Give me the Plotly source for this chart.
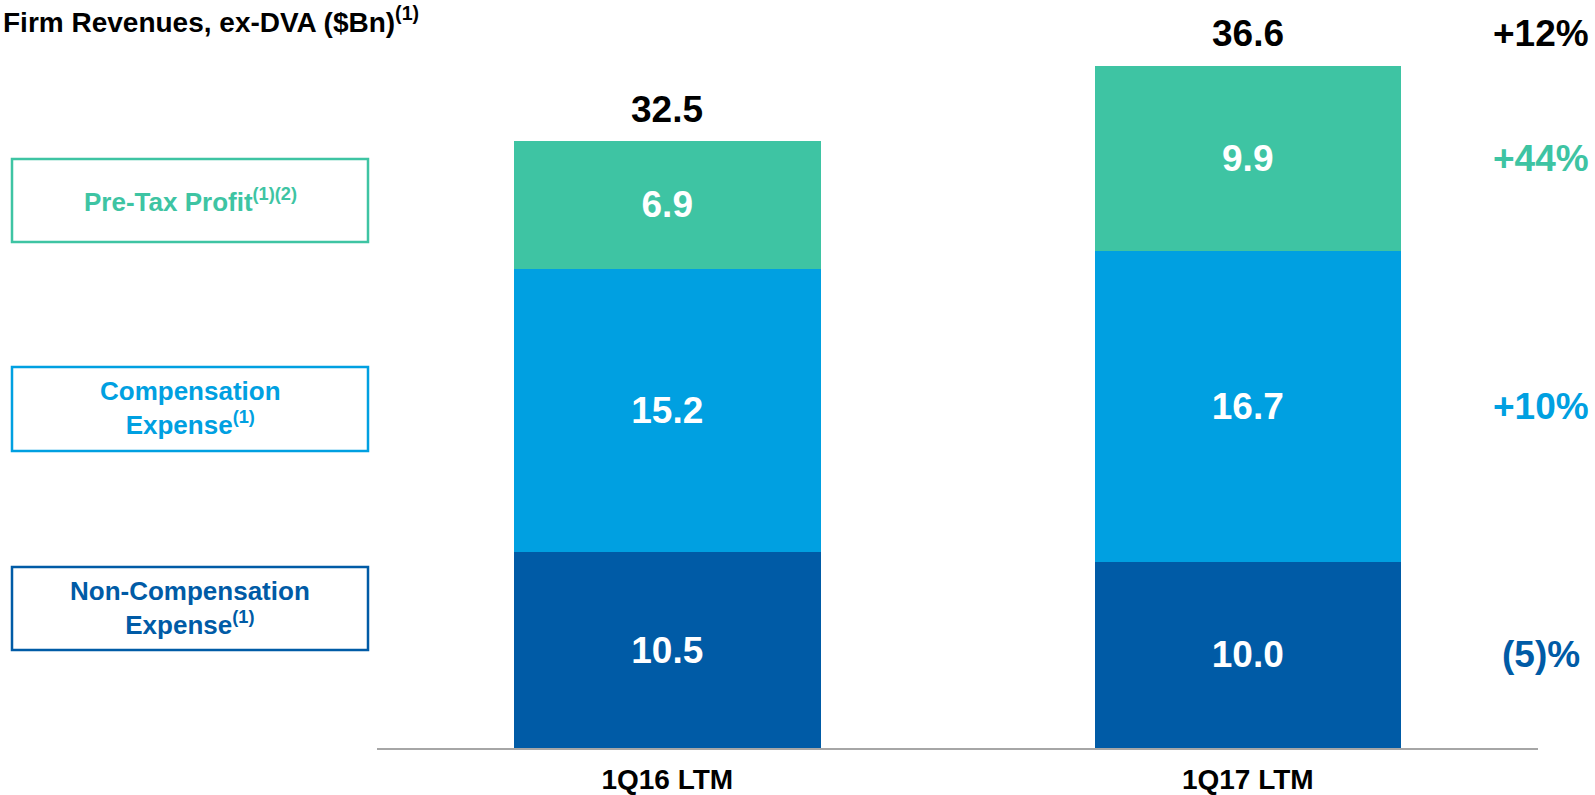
import plotly.graph_objects as go

categories = ["1Q16 LTM", "1Q17 LTM"]
non_comp = [10.5, 10.0]
comp = [15.2, 16.7]
pretax = [6.9, 9.9]
totals = [32.5, 36.6]
changes_total = "+12%"
changes_pretax = "+44%"
changes_comp = "+10%"
changes_noncomp = "(5)%"

C_TEAL = "#3EC4A3"
C_BLUE = "#00A0E1"
C_DARK = "#005BA6"
FONT = "Liberation Sans, Arial, sans-serif"

W, H = 1595, 795
ML, MR, MT, MB = 377, 57, 20, 47
PW, PH = W - ML - MR, H - MT - MB
PX_PER_UNIT = 18.63
YMAX = PH / PX_PER_UNIT


def px(x):
    return (x - ML) / PW


def py(y):
    return (H - MB - y) / PH


fig = go.Figure()
for name, vals, col in [("Non-Compensation Expense", non_comp, C_DARK),
                        ("Compensation Expense", comp, C_BLUE),
                        ("Pre-Tax Profit", pretax, C_TEAL)]:
    fig.add_trace(go.Bar(
        x=categories, y=vals, name=name, marker=dict(color=col, line=dict(width=0)),
        width=0.528, text=[f"<b>{v:.1f}</b>" for v in vals], textposition="inside",
        insidetextanchor="middle", constraintext="none",
        textfont=dict(family=FONT, size=37, color="white"), hoverinfo="skip"))

annotations = []
for c, t in zip(categories, totals):
    annotations.append(dict(x=c, y=t, xref="x", yref="y", text=f"<b>{t:.1f}</b>",
                            showarrow=False, yanchor="middle", yshift=33,
                            font=dict(family=FONT, size=37, color="black")))

# change labels on the right, aligned with second bar segments
xr = px(1541)
seg_mid_noncomp = non_comp[1] / 2
seg_mid_comp = non_comp[1] + comp[1] / 2
seg_mid_pretax = non_comp[1] + comp[1] + pretax[1] / 2
annotations.append(dict(x=xr, y=totals[1], xref="paper", yref="y", text=f"<b>{changes_total}</b>",
                        showarrow=False, yanchor="middle", yshift=33, xanchor="center",
                        font=dict(family=FONT, size=37, color="black")))
for yv, txt, col in [(seg_mid_pretax, changes_pretax, C_TEAL),
                     (seg_mid_comp, changes_comp, C_BLUE),
                     (seg_mid_noncomp, changes_noncomp, C_DARK)]:
    annotations.append(dict(x=xr, y=yv, xref="paper", yref="y", text=f"<b>{txt}</b>",
                            showarrow=False, yanchor="middle", xanchor="center",
                            font=dict(family=FONT, size=37, color=col)))

# title
annotations.append(dict(x=px(1), y=py(20), xref="paper", yref="paper",
                        text="<b>Firm Revenues, ex-DVA ($Bn)<sup>(1)</sup></b>",
                        showarrow=False, xanchor="left", yanchor="middle",
                        font=dict(family=FONT, size=28, color="black")))

# legend boxes on the left
shapes = []
boxes = [
    (159, 242, C_TEAL, "Pre-Tax Profit<sup>(1)(2)</sup>", 200),
    (367, 451, C_BLUE, "Compensation<br>Expense<sup>(1)</sup>", 408),
    (567, 650, C_DARK, "Non-Compensation<br>Expense<sup>(1)</sup>", 608),
]
for top, bot, col, txt, yc in boxes:
    shapes.append(dict(type="rect", xref="paper", yref="paper",
                       x0=px(12), x1=px(368), y0=py(bot), y1=py(top),
                       line=dict(color=col, width=2.5), fillcolor="rgba(0,0,0,0)"))
    annotations.append(dict(x=px(190), y=py(yc), xref="paper", yref="paper",
                            text=f"<b>{txt}</b>", showarrow=False,
                            xanchor="center", yanchor="middle",
                            font=dict(family=FONT, size=26, color=col)))

fig.update_layout(
    width=W, height=H, barmode="stack", showlegend=False,
    margin=dict(l=ML, r=MR, t=MT, b=MB, pad=0, autoexpand=False),
    paper_bgcolor="white", plot_bgcolor="white",
    xaxis=dict(type="category", range=[-0.5, 1.5], showline=True, linecolor="#A6A6A6",
               linewidth=2, ticks="", showgrid=False, zeroline=False, automargin=False,
               tickfont=dict(family=FONT, size=28, color="black"),
               ticktext=[f"<b>{c}</b>" for c in categories], tickvals=categories,
               ticklabelstandoff=5),
    yaxis=dict(range=[0, YMAX], visible=False, showgrid=False, zeroline=False,
               automargin=False),
    annotations=annotations, shapes=shapes,
)

fig.write_html("out.html")
